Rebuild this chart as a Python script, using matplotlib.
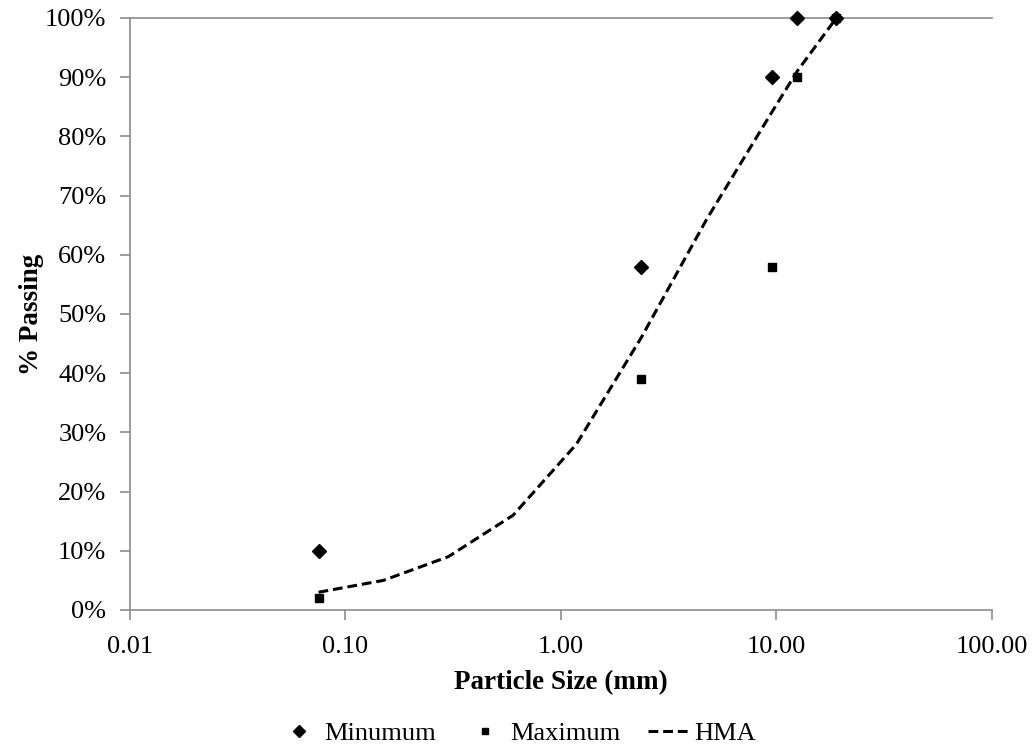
import matplotlib.pyplot as plt
from matplotlib.ticker import FixedLocator, FuncFormatter

plt.rcParams['font.family'] = ['Liberation Serif', 'DejaVu Serif']

# Sieve sizes (mm) and gradation limits
sieve_sizes = [0.075, 2.36, 9.5, 12.5, 19.0]
minimum = [10, 58, 90, 100, 100]
maximum = [2, 39, 58, 90, 100]

# HMA gradation curve
hma_sizes = [0.075, 0.15, 0.3, 0.6, 1.18, 2.36, 4.75, 9.5, 12.5, 19.0]
hma_passing = [3, 5, 9, 16, 28, 46, 66, 84, 91, 100]

x_ticks = [0.01, 0.1, 1, 10, 100]
y_ticks = list(range(0, 101, 10))

fig = plt.figure(figsize=(10.32, 7.48), dpi=100)
ax = fig.add_axes([0.126, 0.1845, 0.835, 0.7915])

ax.plot(sieve_sizes, minimum, linestyle='none', marker='D', markersize=7.5,
        color='black', label='Minumum', clip_on=False, zorder=3)
ax.plot(sieve_sizes, maximum, linestyle='none', marker='s', markersize=5.5,
        color='black', label='Maximum', clip_on=False, zorder=3)
ax.plot(hma_sizes, hma_passing, linestyle=(0, (3.2, 1.6)), linewidth=2.2,
        color='black', label='HMA', clip_on=False)

ax.set_xscale('log')
ax.set_xlim(0.01, 100)
ax.set_ylim(0, 100)
ax.xaxis.set_major_locator(FixedLocator(x_ticks))
ax.xaxis.set_minor_locator(FixedLocator([]))
ax.xaxis.set_major_formatter(FuncFormatter(lambda v, p: f'{v:.2f}'))
ax.yaxis.set_major_locator(FixedLocator(y_ticks))
ax.yaxis.set_major_formatter(FuncFormatter(lambda v, p: f'{v:.0f}%'))

for side in ['left', 'bottom', 'top']:
    ax.spines[side].set_color('#8c8c8c')
    ax.spines[side].set_linewidth(1.2)
ax.spines['right'].set_visible(False)
ax.tick_params(axis='both', direction='out', length=7, width=1.2,
               color='#8c8c8c', labelsize=19, labelcolor='black')
ax.tick_params(axis='x', pad=11.5)
ax.tick_params(axis='y', pad=10)

ax.set_xlabel('Particle Size (mm)', fontsize=19.5, fontweight='bold', labelpad=9)
ax.set_ylabel('% Passing', fontsize=19.5, fontweight='bold', labelpad=1)

fig.legend(*ax.get_legend_handles_labels(), loc='center',
           bbox_to_anchor=(0.501, 1 - 733 / 748), ncol=3, frameon=False,
           fontsize=19, markerscale=0.8, handlelength=1.6, handletextpad=0.15,
           columnspacing=1.05, borderaxespad=0)

fig.savefig('out.png', dpi=100)
